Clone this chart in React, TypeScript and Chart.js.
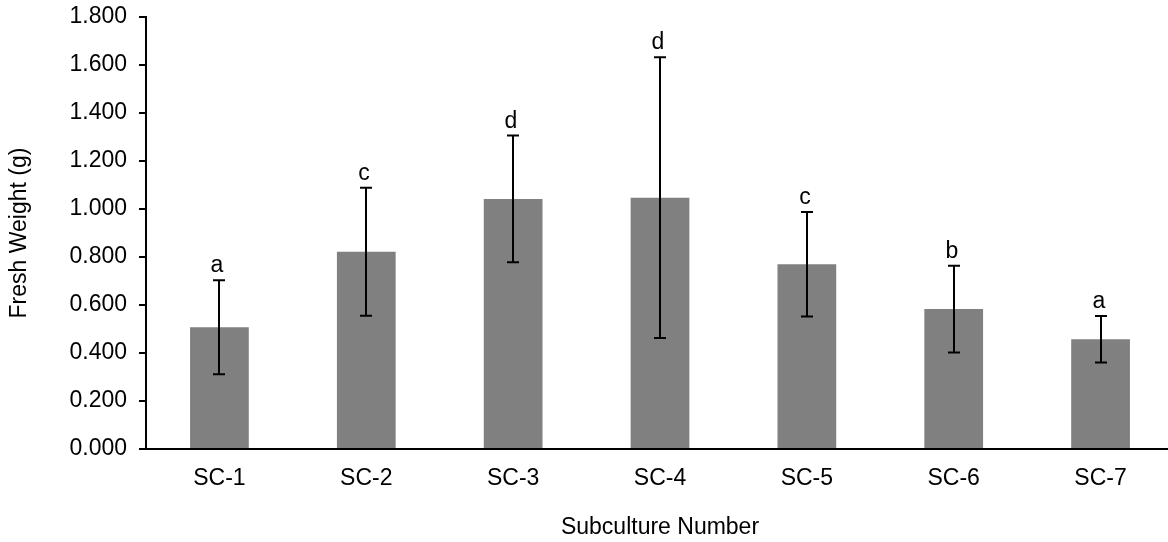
import React, { useEffect, useRef } from "react";
import { Chart, registerables } from "chart.js";

Chart.register(...registerables);

const categories = ["SC-1", "SC-2", "SC-3", "SC-4", "SC-5", "SC-6", "SC-7"];
const freshWeight = [0.507, 0.822, 1.042, 1.047, 0.770, 0.583, 0.457];
const errorValues = [0.196, 0.267, 0.264, 0.585, 0.218, 0.181, 0.097];
const letters = ["a", "c", "d", "d", "c", "b", "a"];
const yTickValues = [0, 0.2, 0.4, 0.6, 0.8, 1.0, 1.2, 1.4, 1.6, 1.8];

const FONT = "'Liberation Sans', Arial, sans-serif";
const FS = 23;

const errorBarPlugin = {
  id: "errorBars",
  afterDatasetsDraw(chart: any) {
    const ctx = chart.ctx;
    const meta = chart.getDatasetMeta(0);
    const y = chart.scales.y;
    ctx.save();
    ctx.strokeStyle = "#000";
    ctx.lineWidth = 2;
    ctx.fillStyle = "#000";
    ctx.font = `${FS}px ${FONT}`;
    ctx.textAlign = "center";
    ctx.textBaseline = "alphabetic";
    meta.data.forEach((bar: any, i: number) => {
      const x = Math.round(bar.x);
      const top = y.getPixelForValue(freshWeight[i] + errorValues[i]);
      const bot = y.getPixelForValue(freshWeight[i] - errorValues[i]);
      ctx.beginPath();
      ctx.moveTo(x, top);
      ctx.lineTo(x, bot);
      ctx.moveTo(x - 6, top);
      ctx.lineTo(x + 6, top);
      ctx.moveTo(x - 6, bot);
      ctx.lineTo(x + 6, bot);
      ctx.stroke();
      ctx.fillText(letters[i], x - 2, top - 8);
    });
    ctx.restore();
  },
};

export default function App() {
  const ref = useRef<HTMLCanvasElement>(null);
  useEffect(() => {
    if (!ref.current) return;
    const chart = new Chart(ref.current, {
      type: "bar",
      data: {
        labels: categories,
        datasets: [
          {
            data: freshWeight,
            backgroundColor: "#808080",
            borderWidth: 0,
            barPercentage: 0.4,
            categoryPercentage: 1,
          },
        ],
      },
      options: {
        responsive: false,
        animation: false,
        layout: { padding: { top: 17, right: 2, left: 0, bottom: 0 } },
        plugins: { legend: { display: false }, tooltip: { enabled: false } },
        scales: {
          x: {
            grid: { display: false, drawTicks: false },
            border: { display: true, color: "#000", width: 2 },
            ticks: { color: "#000", font: { family: FONT, size: FS }, padding: 16, maxRotation: 0 },
            title: {
              display: true,
              text: "Subculture Number",
              color: "#000",
              font: { family: FONT, size: FS },
              padding: { top: 0, bottom: 1 },
            },
            afterFit: (s: any) => {
              s.height = 93;
              s.paddingLeft = 0;
              s.paddingRight = 0;
            },
          },
          y: {
            min: 0,
            max: 1.8,
            afterBuildTicks: (s: any) => {
              s.ticks = yTickValues.map((v) => ({ value: v }));
            },
            grid: { drawOnChartArea: false, drawTicks: true, tickLength: 7, color: "#000", lineWidth: 2 },
            border: { display: true, color: "#000", width: 2 },
            ticks: {
              color: "#000",
              font: { family: FONT, size: FS },
              padding: 12,
              callback: (v: any) => Number(v).toFixed(3),
            },
            title: {
              display: true,
              text: "Fresh Weight (g)",
              color: "#000",
              font: { family: FONT, size: FS },
              padding: { top: 6, bottom: 0 },
            },
            afterFit: (s: any) => {
              s.width = 146;
              s.paddingTop = 0;
              s.paddingBottom = 0;
            },
          },
        },
      },
      plugins: [errorBarPlugin],
    });
    return () => chart.destroy();
  }, []);
  return (
    <div style={{ position: "fixed", left: 0, top: 0, width: 1168, height: 542, overflow: "hidden", background: "#fff" }}>
      <canvas ref={ref} width={1176} height={542} style={{ display: "block" }} />
    </div>
  );
}
